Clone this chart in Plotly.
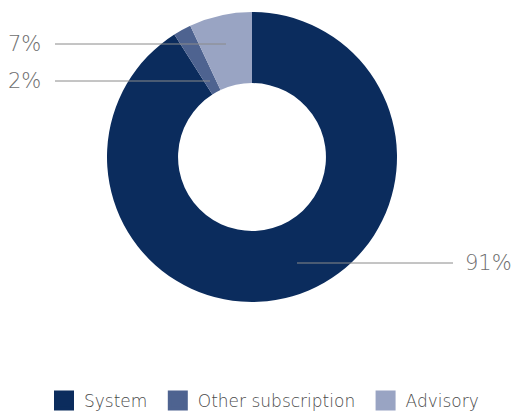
import plotly.graph_objects as go

# Data
categories = ["System", "Other subscription", "Advisory"]
values = [91, 2, 7]
colors = ["#0b2c5d", "#4e6390", "#99a4c3"]
label_texts = ["91%", "2%", "7%"]

W, H = 516, 412
# Pie geometry (pixels)
cx, cy, R = 252, 157, 145

fig = go.Figure(go.Pie(
    labels=categories,
    values=values,
    hole=0.51,
    sort=False,
    direction="clockwise",
    rotation=0,
    marker=dict(colors=colors, line=dict(width=0)),
    textinfo="none",
    hoverinfo="label+percent",
    showlegend=False,
    domain=dict(x=[(cx - R) / W, (cx + R) / W], y=[1 - (cy + R) / H, 1 - (cy - R) / H]),
))

# Legend entries with larger square symbols (trailing nbsp widens the gap between entries)
pads = ["\u00a0", "\u00a0", ""]
for name, col, pad in zip(categories, colors, pads):
    fig.add_trace(go.Scatter(
        x=[None], y=[None], mode="markers", name=name + pad,
        marker=dict(symbol="square", size=16, color=col, line=dict(color=col, width=4)),
        hoverinfo="skip", showlegend=True,
    ))

# Leader line layout (pixels): (line_y, x_start, x_end, text_x, anchor)
leaders = [
    (263, 297, 453, 463, "left"),
    (81, 55, 210, 43, "right"),
    (44, 55, 226, 43, "right"),
]

shapes = []
annotations = []
for txt, (ly, x0, x1, tx, anc) in zip(label_texts, leaders):
    shapes.append(dict(type="line", xref="paper", yref="paper",
                       x0=x0 / W, x1=x1 / W, y0=1 - ly / H, y1=1 - ly / H,
                       line=dict(color="#8a8a8a", width=1)))
    annotations.append(dict(text=txt, xref="paper", yref="paper",
                            x=tx / W, y=1 - ly / H, xanchor=anc, yanchor="middle",
                            showarrow=False,
                            font=dict(family="DejaVu Sans", size=21, color="#6e6e6e", weight=200)))

fig.update_layout(
    width=W, height=H,
    margin=dict(l=0, r=0, t=0, b=0, autoexpand=False),
    paper_bgcolor="white",
    plot_bgcolor="white",
    xaxis=dict(visible=False),
    yaxis=dict(visible=False),
    shapes=shapes,
    annotations=annotations,
    showlegend=True,
    legend=dict(orientation="h", x=264 / W, xanchor="center",
                y=1 - 401 / H, yanchor="middle",
                font=dict(family="DejaVu Sans", size=17, color="#4a4a4a", weight=200),
                itemwidth=30, traceorder="normal", itemsizing="trace"),
)

fig.write_html("out.html")
